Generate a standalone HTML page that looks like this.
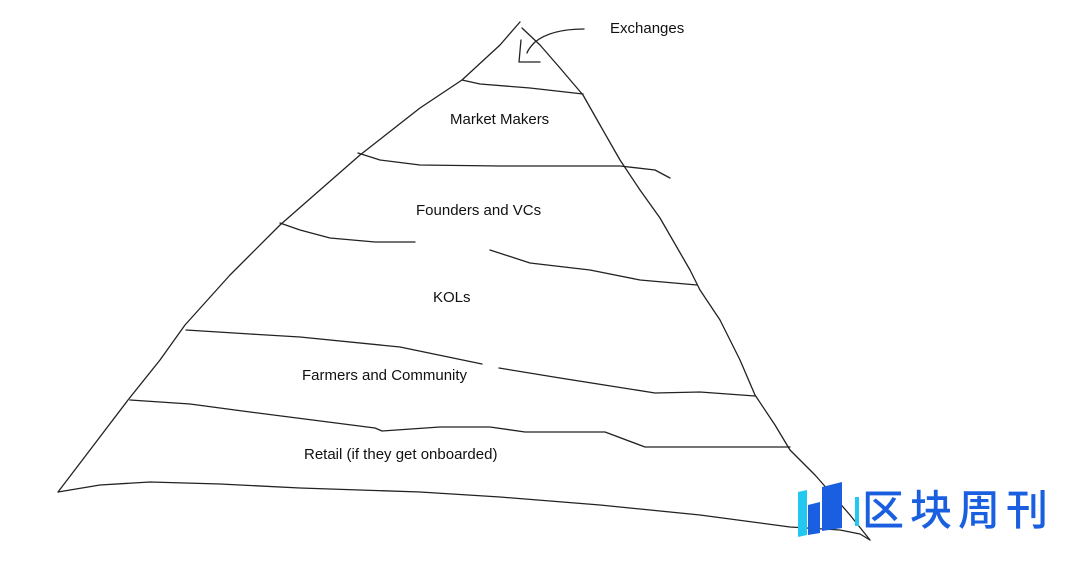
<!DOCTYPE html>
<html><head><meta charset="utf-8"><style>
html,body{margin:0;padding:0;background:#fff;width:1080px;height:581px;overflow:hidden}
svg{display:block}
text{font-family:"Liberation Sans",Arial,sans-serif;font-size:15px;fill:#111}
</style></head><body>
<svg width="1080" height="581" viewBox="0 0 1080 581">
<g fill="none" stroke="#222" stroke-width="1.3" stroke-linejoin="round" stroke-linecap="round">
<polyline points="520,22 500,45 462,80 420,108 360,155 320,190 280,225 230,275 185,325 160,360 128,400 90,450 58,492"/>
<polyline points="522,28 540,45 560,68 583,95 600,125 620,160 640,190 660,218 690,270 700,290 720,320 740,360 755,395 775,425 790,450 815,475 830,492 850,515 870,540"/>
<polyline points="58,492 100,485 150,482 220,484 300,488 420,492 500,497 600,505 700,515 790,527 840,530 860,534 870,540"/>
<polyline points="462,80 480,84 530,88 583,94"/>
<polyline points="358,153 380,160 420,165 500,166 620,166 655,170 670,178"/>
<polyline points="280,223 300,230 330,238 375,242 415,242"/>
<polyline points="490,250 530,263 590,270 640,280 697,285"/>
<polyline points="186,330 250,334 300,337 400,347 482,364"/>
<polyline points="499,368 560,378 655,393 700,392 755,396"/>
<polyline points="130,400 190,404 250,412 375,428 382,431 440,427 490,427 525,432 605,432 645,447 750,447 790,447"/>
<path d="M584,29 C560,29 545,34 535,42 C530,47 528,50 527,53"/>
<polyline points="521,40 519,62 540,62"/>
</g>
<text x="610" y="33">Exchanges</text>
<text x="450" y="124">Market Makers</text>
<text x="416" y="215">Founders and VCs</text>
<text x="433" y="302">KOLs</text>
<text x="302" y="380">Farmers and Community</text>
<text x="304" y="459">Retail (if they get onboarded)</text>
<g>
<polygon points="798,492 807,490 807,535 798,537" fill="#23c8f0"/>
<polygon points="808,505 820,502 820,533 808,535" fill="#1a5fe0"/>
<polygon points="822,487 842,482 842,528 822,531" fill="#1a5fe0"/>
<rect x="855" y="497" width="4" height="29" fill="#23c8f0"/>
<text x="862" y="525" style="font-family:'Noto Sans CJK SC','WenQuanYi Zen Hei',sans-serif;font-size:42px;font-weight:500;fill:#1a5fe0;letter-spacing:6px">区块周刊</text>
</g>
</svg>
</body></html>
